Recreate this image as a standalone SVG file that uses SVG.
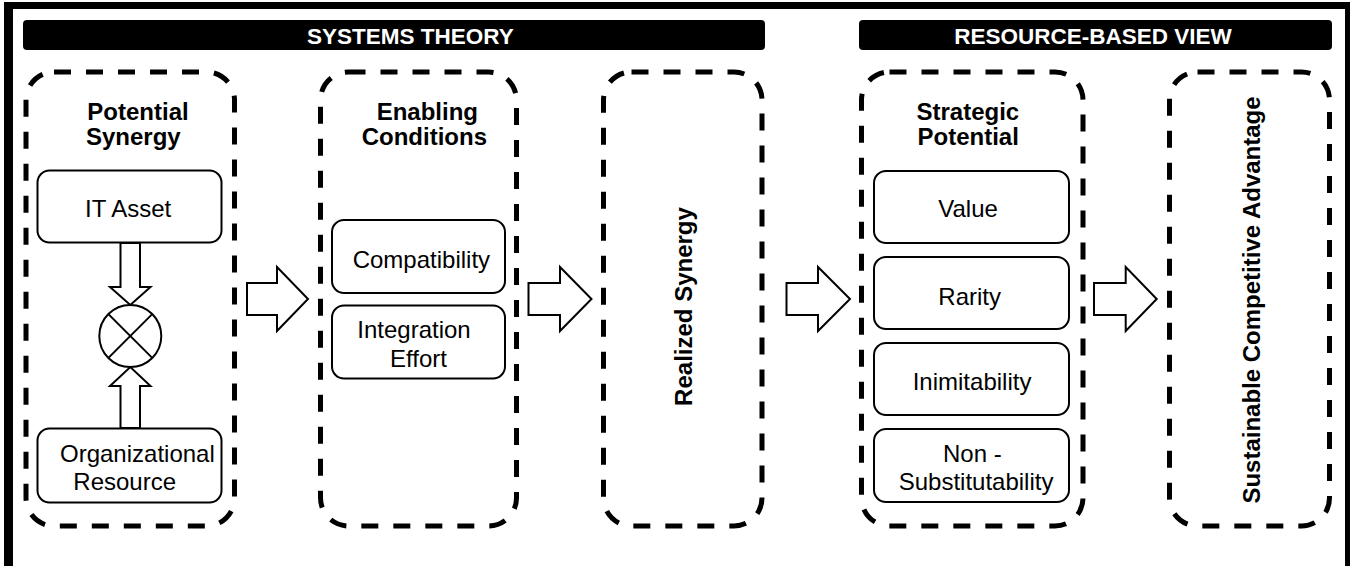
<svg xmlns="http://www.w3.org/2000/svg" width="1350" height="566" viewBox="0 0 1350 566">
<style>
text{font-family:"Liberation Sans",Arial,sans-serif;fill:#000}
.hdr{font-size:22.5px;font-weight:bold;fill:#fff}
.ttl{font-size:24px;font-weight:bold}
.lbl{font-size:24px}
.dash{fill:none;stroke:#000;stroke-width:5;stroke-dasharray:17 15}
.box{fill:#fff;stroke:#000;stroke-width:2}
.arr{fill:#fff;stroke:#000;stroke-width:2;stroke-linejoin:miter}
</style>
<rect x="0" y="0" width="1350" height="566" fill="#fff"/>
<g id="frame">
<rect x="4" y="2" width="1346" height="564" fill="#000"/>
<rect x="13" y="9" width="1332" height="557" fill="#fff"/>
</g>
<g id="header-systems-theory">
<rect x="23" y="20" width="742" height="30" rx="4" fill="#000"/>
<text class="hdr" x="307" y="44">SYSTEMS THEORY</text>
</g>
<g id="header-rbv">
<rect x="859" y="20" width="473" height="30" rx="4" fill="#000"/>
<text class="hdr" x="1093" y="44" text-anchor="middle">RESOURCE-BASED VIEW</text>
</g>
<g id="potential-synergy">
<rect class="dash" x="26" y="72" width="208.5" height="454" rx="28"/>
<text class="ttl" x="87.3" y="120">Potential</text>
<text class="ttl" x="86" y="145">Synergy</text>
</g>
<g id="it-asset">
<rect class="box" x="37.5" y="170.5" width="184" height="72" rx="12"/>
<text class="lbl" x="85" y="217">IT Asset</text>
</g>
<g id="org-resource">
<rect class="box" x="37.5" y="428.5" width="184" height="74" rx="12"/>
<text class="lbl" x="60" y="462">Organizational</text>
<text class="lbl" x="73.3" y="490">Resource</text>
</g>
<g id="combine">
<circle cx="130.3" cy="336" r="31" fill="#fff" stroke="#000" stroke-width="2"/>
<line x1="108.4" y1="314.1" x2="152.2" y2="357.9" stroke="#000" stroke-width="2"/>
<line x1="152.2" y1="314.1" x2="108.4" y2="357.9" stroke="#000" stroke-width="2"/>
</g>
<g id="enabling-conditions">
<rect class="dash" x="320.5" y="72" width="196" height="454" rx="28"/>
<text class="ttl" x="376.7" y="120">Enabling</text>
<text class="ttl" x="361.7" y="145">Conditions</text>
</g>
<g id="compatibility">
<rect class="box" x="332" y="220" width="173" height="73" rx="12"/>
<text class="lbl" x="352.7" y="268">Compatibility</text>
</g>
<g id="integration-effort">
<rect class="box" x="332" y="305.5" width="173" height="73" rx="12"/>
<text class="lbl" x="357.3" y="338.3">Integration</text>
<text class="lbl" x="390" y="366.7">Effort</text>
</g>
<g id="realized-synergy">
<rect class="dash" x="603.5" y="72" width="158.5" height="454" rx="28"/>
<text class="ttl" transform="translate(692 306.5) rotate(-90)" text-anchor="middle">Realized Synergy</text>
</g>
<g id="strategic-potential">
<rect class="dash" x="861.5" y="72" width="221.5" height="454" rx="28"/>
<text class="ttl" x="916.5" y="120">Strategic</text>
<text class="ttl" x="917.5" y="145">Potential</text>
</g>
<g id="value">
<rect class="box" x="874" y="171" width="195" height="72" rx="12"/>
<text class="lbl" x="938.3" y="217">Value</text>
</g>
<g id="rarity">
<rect class="box" x="874" y="257" width="195" height="72" rx="12"/>
<text class="lbl" x="938.3" y="304.5">Rarity</text>
</g>
<g id="inimitability">
<rect class="box" x="874" y="343" width="195" height="72" rx="12"/>
<text class="lbl" x="912.7" y="390">Inimitability</text>
</g>
<g id="non-substitutability">
<rect class="box" x="874" y="429" width="195" height="73" rx="12"/>
<text class="lbl" x="943" y="461.7">Non -</text>
<text class="lbl" x="898.7" y="490">Substitutability</text>
</g>
<g id="sustainable-competitive-advantage">
<rect class="dash" x="1169.5" y="72" width="160" height="454" rx="28"/>
<text class="ttl" transform="translate(1260 300) rotate(-90)" text-anchor="middle">Sustainable Competitive Advantage</text>
</g>
<g id="connectors">
<polygon class="arr" points="120.5,243 120.5,287 110,287 130.3,305 150.5,287 140,287 140,243"/>
<polygon class="arr" points="120.5,428 120.5,386 110,386 130.3,367 150.5,386 140,386 140,428"/>
<polygon class="arr" points="247,283 277,283 277,267 308,299 277,331 277,315 247,315"/>
<polygon class="arr" points="528.5,283 560,283 560,267 591.5,299 560,331 560,315 528.5,315"/>
<polygon class="arr" points="786.5,283 818,283 818,267 850,299 818,331 818,315 786.5,315"/>
<polygon class="arr" points="1094,283 1125.7,283 1125.7,267 1156.7,299 1125.7,331 1125.7,315 1094,315"/>
</g>
</svg>
